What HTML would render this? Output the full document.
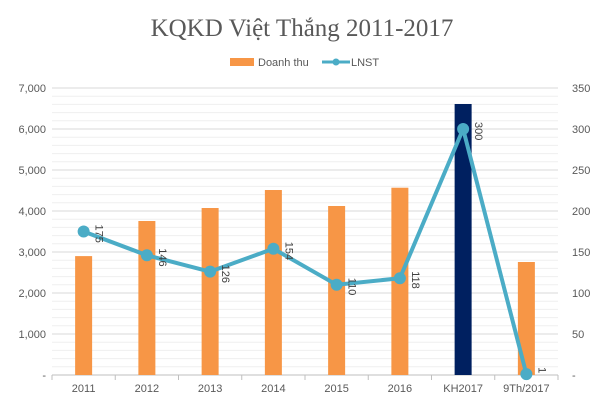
<!DOCTYPE html>
<html><head><meta charset="utf-8"><style>
body{margin:0;background:#fff}
svg text{font-family:"Liberation Sans",sans-serif}
</style></head><body>
<svg id="chart" width="603" height="406" xmlns="http://www.w3.org/2000/svg">
<text x="302" y="36" text-anchor="middle" font-size="25" fill="#595959" style="font-family:'Liberation Serif',serif">KQKD Việt Thắng 2011-2017</text>
<g>
<rect x="230" y="58" width="24" height="8" fill="#f79646"/>
<text x="258" y="66" font-size="11" fill="#595959">Doanh thu</text>
<line x1="322" y1="62" x2="350" y2="62" stroke="#4bacc6" stroke-width="3"/>
<circle cx="336" cy="62" r="3.5" fill="#4bacc6"/>
<text x="351" y="66" font-size="11" fill="#595959">LNST</text>
</g>
<g id="grid"></g><g id="axes"></g><g id="bars"></g><g id="line"></g>
</svg>
<script>
const categories=["2011","2012","2013","2014","2015","2016","KH2017","9Th/2017"];
const revenue=[2900,3756,4073,4512,4122,4568,6610,2756];
const profit=[175,146,126,154,110,118,300,1];
const leftTicks=["-","1,000","2,000","3,000","4,000","5,000","6,000","7,000"];
const rightTicks=["-","50","100","150","200","250","300","350"];
const NS="http://www.w3.org/2000/svg";
const x0=52,x1=558,yTop=88,yBot=375;
const yL=v=>yBot-(v/7000)*(yBot-yTop);
const yR=v=>yBot-(v/350)*(yBot-yTop);
const bw=(x1-x0)/categories.length;
const xc=i=>x0+bw*(i+0.5);
function mk(t,a,p){const e=document.createElementNS(NS,t);for(const k in a)e.setAttribute(k,a[k]);document.getElementById(p).appendChild(e);return e;}
for(let v=0;v<=7000;v+=200){
 const l=mk('line',{x1:x0,x2:x1,y1:yL(v),y2:yL(v),stroke:v%1000===0?'#d9d9d9':'#efefef','stroke-width':1},'grid');
 
 
}
leftTicks.forEach((t,i)=>{const e=mk('text',{x:46,y:yL(i*1000)+4,'text-anchor':'end','font-size':11,fill:'#595959'},'axes');e.textContent=t;
 
 });
rightTicks.forEach((t,i)=>{const e=mk('text',{x:572,y:yR(i*50)+4,'text-anchor':'start','font-size':11,fill:'#595959'},'axes');e.textContent=t;
 
 });
mk('line',{x1:x0,x2:x1,y1:yBot,y2:yBot,stroke:'#bfbfbf'},'axes');
categories.forEach((c,i)=>{
 mk('line',{x1:x0+bw*i,x2:x0+bw*i,y1:yBot,y2:yBot+5,stroke:'#bfbfbf'},'axes');
 const e=mk('text',{x:xc(i),y:392,'text-anchor':'middle','font-size':11,fill:'#595959'},'axes');e.textContent=c;
 
 
 const b=mk('rect',{x:xc(i)-8.5,y:yL(revenue[i]),width:17,height:yBot-yL(revenue[i]),fill:c==='KH2017'?'#002060':'#f79646'},'bars');
 
 
});
mk('line',{x1:x1,x2:x1,y1:yBot,y2:yBot+5,stroke:'#bfbfbf'},'axes');
const pts=profit.map((v,i)=>xc(i)+','+yR(v)).join(' ');
const pl=mk('polyline',{points:pts,fill:'none',stroke:'#4bacc6','stroke-width':4,'stroke-linejoin':'round'},'line');


profit.forEach((v,i)=>{
 const c=mk('circle',{cx:xc(i),cy:yR(v),r:6,fill:'#4bacc6'},'line');
 
 
 const tx=xc(i)+12,ty=yR(v)-7;
 const t=mk('text',{x:tx,y:ty,'font-size':11,fill:'#404040',transform:`rotate(90 ${tx} ${ty})`},'line');
 t.textContent=v;
 
 
});
</script>
</body></html>
